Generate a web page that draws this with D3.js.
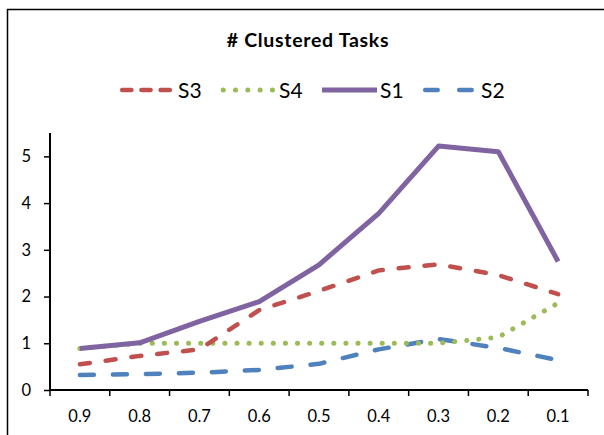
<!DOCTYPE html>
<html>
<head>
<meta charset="utf-8">
<script src="https://cdn.jsdelivr.net/npm/d3@7"></script>
<style>
  html, body { margin: 0; padding: 0; background: #fff; }
  svg { display: block; font-family: Lato, "Open Sans", sans-serif; }
</style>
</head>
<body>
<svg id="chart" width="604" height="435"></svg>
<script>
// Threshold categories along the x axis
const categories = ["0.9", "0.8", "0.7", "0.6", "0.5", "0.4", "0.3", "0.2", "0.1"];

// Series values (# clustered tasks)
const s1 = [0.89, 1.01, 1.47, 1.89, 2.68, 3.78, 5.22, 5.10, 2.75];
const s2 = [0.32, 0.34, 0.37, 0.43, 0.56, 0.87, 1.09, 0.90, 0.64];
const s3 = [0.55, 0.73, 0.87, 1.71, 2.12, 2.56, 2.69, 2.46, 2.05];
const s4 = [0.89, 1.00, 1.00, 1.00, 1.00, 1.00, 1.00, 1.13, 1.86];

const yTicks = [0, 1, 2, 3, 4, 5];
const legendOrder = ["S3", "S4", "S1", "S2"];

const seriesStyle = {
  S1: { values: s1, color: "#8064a2", dash: null, legendDash: null, cap: "butt", width: 5 },
  S2: { values: s2, color: "#4f81bd", dash: "14 19", legendDash: "12.5 21.5", cap: "round", width: 4.5 },
  S3: { values: s3, color: "#c0504d", dash: "10 16", legendDash: "9.2 10", cap: "round", width: 4.5 },
  S4: { values: s4, color: "#9bbb59", dash: "0.1 12", legendDash: "0.1 12.2", cap: "round", width: 5 }
};
// Drawing order (later on top)
const drawOrder = ["S2", "S4", "S3", "S1"];

const svg = d3.select("#chart");

// Outer chart frame
svg.append("rect")
  .attr("x", 7.5).attr("y", 9.5)
  .attr("width", 620).attr("height", 450)
  .attr("fill", "none").attr("stroke", "#000").attr("stroke-width", 1.5);

const plot = { left: 50, right: 588, top: 133, bottom: 390 };

const x = d3.scaleBand().domain(categories).range([plot.left, plot.right]);
const y = d3.scaleLinear().domain([0, 5.5]).range([plot.bottom, plot.top]);

// Title
svg.append("text")
  .attr("x", 308).attr("y", 47)
  .attr("text-anchor", "middle")
  .attr("font-weight", "bold").attr("font-size", 19.5)
  .attr("letter-spacing", 0.7)
  .text("# Clustered Tasks");

// Y axis
const yAxis = svg.append("g")
  .attr("transform", `translate(${plot.left},0)`)
  .call(d3.axisLeft(y).tickValues(yTicks).tickSize(6).tickPadding(13).tickFormat(d3.format("d")));
yAxis.select(".domain").attr("d", `M0,${plot.top}V${plot.bottom}`);

// X axis: ticks at band boundaries, labels at band centers
const xAxis = svg.append("g")
  .attr("transform", `translate(0,${plot.bottom})`);
xAxis.append("line")
  .attr("x1", plot.left).attr("x2", plot.right)
  .attr("stroke", "#000").attr("stroke-width", 2);
const bounds = categories.map(c => x(c)).concat([x(categories[categories.length - 1]) + x.bandwidth()]);
xAxis.selectAll("line.tick").data(bounds).join("line")
  .attr("class", "tick")
  .attr("x1", d => d).attr("x2", d => d)
  .attr("y1", 0).attr("y2", 6)
  .attr("stroke", "#000").attr("stroke-width", 1.5);
xAxis.selectAll("text").data(categories).join("text")
  .attr("x", d => x(d) + x.bandwidth() / 2)
  .attr("y", 32)
  .attr("text-anchor", "middle")
  .attr("font-size", 16.5)
  .attr("fill", "#000")
  .text(d => d);

yAxis.selectAll(".domain").attr("stroke", "#000").attr("stroke-width", 2);
yAxis.selectAll(".tick line").attr("stroke", "#000").attr("stroke-width", 1.5);
yAxis.selectAll(".tick text").attr("font-size", 16.5).attr("fill", "#000").attr("font-family", "Lato, sans-serif");

// Lines
const line = d3.line()
  .x((d, i) => x(categories[i]) + x.bandwidth() / 2)
  .y(d => y(d));

drawOrder.forEach(name => {
  const s = seriesStyle[name];
  svg.append("path")
    .datum(s.values)
    .attr("fill", "none")
    .attr("stroke", s.color)
    .attr("stroke-width", s.width)
    .attr("stroke-linejoin", "round")
    .attr("stroke-linecap", s.cap)
    .attr("stroke-dasharray", s.dash)
    .attr("d", line);
});

// Legend
const legendX = [120, 221, 322, 423];
const legend = svg.append("g");
legendOrder.forEach((name, i) => {
  const s = seriesStyle[name];
  const g = legend.append("g").attr("transform", `translate(${legendX[i]},90)`);
  g.append("line")
    .attr("x1", name === "S1" ? 0 : 2.2).attr("x2", name === "S1" ? 55 : 52)
    .attr("stroke", s.color)
    .attr("stroke-width", s.width)
    .attr("stroke-linecap", s.cap)
    .attr("stroke-dasharray", s.legendDash);
  g.append("text")
    .attr("x", 58).attr("y", 7.5)
    .attr("font-size", 21)
    .text(name);
});
</script>
</body>
</html>
